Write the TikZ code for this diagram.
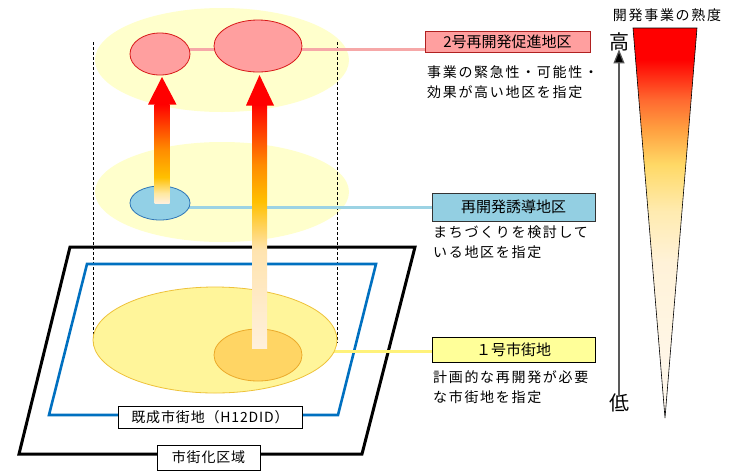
\documentclass[tikz,border=0pt]{standalone}
\usepackage{fontspec}
\setmainfont{Noto Sans CJK JP}
\newfontfamily\jpsp[LetterSpace=12]{Noto Sans CJK JP}
\newfontfamily\jpspb[LetterSpace=6]{Noto Sans CJK JP}
\usetikzlibrary{shapes.geometric,arrows.meta}
\definecolor{paleY}{HTML}{FFFFCC}
\definecolor{yelE}{HTML}{FFF59A}
\definecolor{yelB}{HTML}{EEC23A}
\definecolor{oraE}{HTML}{FFD564}
\definecolor{oraB}{HTML}{EBAA2A}
\definecolor{pinkF}{HTML}{FF9F9F}
\definecolor{pinkB}{HTML}{D81818}
\definecolor{pinkL}{HTML}{F6A8A8}
\definecolor{blueF}{HTML}{92D0E6}
\definecolor{blueB}{HTML}{2E75B6}
\definecolor{blueL}{HTML}{9CD3E4}
\definecolor{yelL}{HTML}{FFF27A}
\definecolor{didB}{RGB}{0,112,192}
\definecolor{boxTwoB}{HTML}{B02020}
\definecolor{boxOneF}{HTML}{FFFF99}
\definecolor{boxReF}{HTML}{93CFE2}
\definecolor{tA}{HTML}{FFF9F0}
\definecolor{tB}{HTML}{FFF2D8}
\definecolor{tC}{HTML}{FFEBB0}
\definecolor{tD}{HTML}{FFD966}
\definecolor{tE}{HTML}{FFA040}
\definecolor{tF}{HTML}{FF6A30}
\definecolor{aA}{HTML}{FFF0DC}
\definecolor{aB}{HTML}{FFE4B0}
\definecolor{aC}{HTML}{FFC000}
\definecolor{aD}{HTML}{FF8C00}
\definecolor{aE}{HTML}{FFE8A0}
\definecolor{aRed}{HTML}{FF0000}
\pgfdeclareverticalshading{triShade}{100bp}{color(0bp)=(tA); color(25bp)=(tA); color(45bp)=(tB); color(51.5bp)=(tC); color(57.5bp)=(tD); color(62bp)=(tE); color(65.75bp)=(tF); color(71bp)=(aRed); color(100bp)=(aRed)}
\pgfdeclareverticalshading{arrowTwo}{100bp}{color(0bp)=(aA); color(25bp)=(aA); color(45bp)=(aB); color(55bp)=(aC); color(62.5bp)=(aD); color(75bp)=(aRed); color(100bp)=(aRed)}
\pgfdeclareverticalshading{arrowOne}{100bp}{color(0bp)=(aA); color(25bp)=(aA); color(30bp)=(aE); color(38bp)=(aC); color(52bp)=(aD); color(75bp)=(aRed); color(100bp)=(aRed)}
\tikzset{
  ell/.style={ellipse, inner sep=0pt},
  lbox/.style={draw, line width=0.8pt, inner sep=0pt, font=\fontsize{15}{18}\selectfont},
  desc/.style={anchor=west, align=left, inner sep=0pt, font=\jpsp\fontsize{14}{20}\selectfont},
  botlabel/.style={draw=black, line width=0.8pt, fill=white, inner sep=0pt, font=\jpspb\fontsize{14}{16}\selectfont},
  conn/.style={line width=3pt},
}
\begin{document}
\begin{tikzpicture}[x=1pt,y=-1pt]
\useasboundingbox (0,0) rectangle (731,475);
\fill[white] (0,0) rectangle (731,475);

% pale layers
\node[ell, fill=paleY, minimum width=254pt, minimum height=104pt] (layTop) at (222,60) {};
\node[ell, fill=paleY, minimum width=254pt, minimum height=100pt] (layMid) at (222,192) {};

% dashed guides
\coordinate (dlA) at (93,42); \coordinate (dlB) at (93,345);
\coordinate (drA) at (337,42); \coordinate (drB) at (337,343);
\draw[dash pattern=on 3pt off 2pt, line width=0.7pt] (dlA) -- (dlB);
\draw[dash pattern=on 3pt off 2pt, line width=0.7pt] (drA) -- (drB);

% parallelograms
\coordinate (pA) at (70,247); \coordinate (pB) at (415,247);
\coordinate (pC) at (362,454); \coordinate (pD) at (19,454);
\draw[line width=3pt, line join=miter] (pA) -- (pB) -- (pC) -- (pD) -- cycle;
\coordinate (qA) at (87,264); \coordinate (qB) at (376,264);
\coordinate (qC) at (338,415); \coordinate (qD) at (49,415);
\draw[line width=2.6pt, draw=didB, line join=miter] (qA) -- (qB) -- (qC) -- (qD) -- cycle;

% right boxes
\node[lbox, draw=boxTwoB, fill=pinkF, minimum width=165pt, minimum height=21pt] (boxTwo) at (507.5,42) {2号再開発促進地区};
\node[lbox, draw=black!80, fill=boxReF, minimum width=163pt, minimum height=28pt] (boxRe) at (513.5,207) {再開発誘導地区};
\node[lbox, draw=black, fill=boxOneF, minimum width=163pt, minimum height=25pt] (boxOne) at (513.5,349.5) {１号市街地};

% bottom ellipses
\coordinate (yl) at (300,351);
\draw[conn, draw=yelL] (yl) -- (yl -| boxOne.west);
\node[ell, fill=yelE, draw=yelB, line width=0.8pt, minimum width=244pt, minimum height=106pt] (ellBig) at (215,340) {};
\node[ell, fill=oraE, draw=oraB, line width=0.8pt, minimum width=88pt, minimum height=52pt] (ellOra) at (258,355) {};

% connectors
\coordinate (pk) at (160,49);
\draw[conn, draw=pinkL] (pk) -- (pk -| boxTwo.west);
\coordinate (bl) at (160,207);
\draw[conn, draw=blueL] (bl) -- (bl -| boxRe.west);

% pink and blue ellipses
\node[ell, fill=pinkF, draw=pinkB, line width=0.8pt, minimum width=60pt, minimum height=42pt] (pinkA) at (160,54) {};
\node[ell, fill=pinkF, draw=pinkB, line width=0.8pt, minimum width=88pt, minimum height=52pt] (pinkB) at (258,46) {};
\node[ell, fill=blueF, draw=blueB, line width=0.8pt, minimum width=60pt, minimum height=34pt] (blueE) at (160,203) {};

% arrow 1
\shade[shading=arrowOne] (154.5,104) rectangle (169.5,203);
\fill[aRed] (148,104.5) -- (176.5,104.5) -- (162,77) -- cycle;
% arrow 2
\shade[shading=arrowTwo] (252,104) rectangle (267,348);
\fill[aRed] (246,105.5) -- (274,105.5) -- (259.5,75) -- cycle;

% descriptions
\node[desc] (dTwo) at (427,82) {事業の緊急性・可能性・\\効果が高い地区を指定};
\node[desc] (dRe) at (433,242) {まちづくりを検討して\\いる地区を指定};
\node[desc] (dOne) at (433,387.5) {計画的な再開発が必要\\な市街地を指定};

% bottom labels
\node[botlabel, minimum width=184pt, minimum height=22pt] (lDID) at (210,417) {既成市街地（H12DID）};
\node[botlabel, minimum width=103pt, minimum height=25pt] (lCity) at (208.5,457.5) {市街化区域};

% scale
\node[font=\jpsp\fontsize{14}{16}\selectfont, inner sep=0pt] (scTitle) at (667,15) {開発事業の熟度};
\node[font=\fontsize{20}{22}\selectfont, inner sep=0pt] (hi) at (619,42) {高};
\node[font=\fontsize{20}{22}\selectfont, inner sep=0pt] (lo) at (619,403) {低};
\draw[draw=black!65, line width=1.2pt, -{Triangle[width=11pt,length=14pt,fill=black]}] ([yshift=-1pt]lo.north) -- ([yshift=2pt]hi.south);
\coordinate (tL) at (633,28); \coordinate (tR) at (697,28); \coordinate (tT) at (665,418);
\shade[shading=triShade, draw=black, line width=0.6pt] (tL) -- (tR) -- (tT) -- cycle;
\end{tikzpicture}
\end{document}
